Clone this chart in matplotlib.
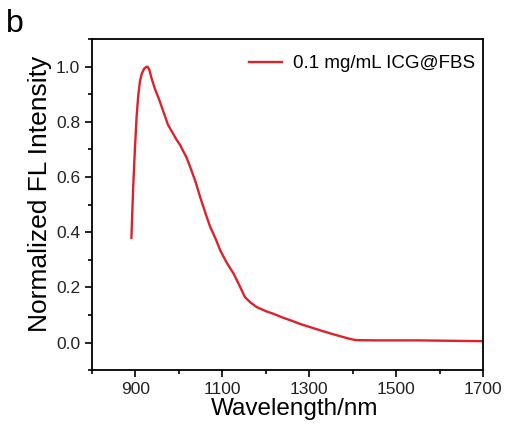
import matplotlib
matplotlib.use("Agg")
import matplotlib.pyplot as plt
from matplotlib.ticker import MultipleLocator

plt.rcParams['font.family'] = ['Liberation Sans', 'DejaVu Sans']

wavelength = [891, 895, 899, 903, 907, 911, 915, 920, 925, 928, 932, 937, 945, 955, 965,
              975, 984, 995, 1003, 1018, 1026, 1038, 1049, 1060, 1072, 1085, 1095, 1110,
              1126, 1140, 1152, 1165, 1180, 1200, 1218, 1240, 1260, 1280, 1302, 1330,
              1360, 1385, 1406, 1450, 1500, 1550, 1600, 1650, 1700]
intensity = [0.38, 0.56, 0.70, 0.82, 0.90, 0.95, 0.975, 0.992, 0.999, 1.0, 0.99, 0.96,
             0.92, 0.88, 0.835, 0.79, 0.765, 0.735, 0.716, 0.67, 0.637, 0.585, 0.528,
             0.475, 0.42, 0.375, 0.335, 0.29, 0.25, 0.205, 0.165, 0.145, 0.128, 0.114,
             0.104, 0.09, 0.079, 0.067, 0.056, 0.042, 0.028, 0.017, 0.009, 0.008, 0.008,
             0.008, 0.007, 0.006, 0.005]
series_label = "0.1 mg/mL ICG@FBS"
xticks = [900, 1100, 1300, 1500, 1700]
yticks = [0.0, 0.2, 0.4, 0.6, 0.8, 1.0]

fig = plt.figure(figsize=(5.13, 4.25), dpi=100)
ax = fig.add_axes([0.179, 0.129, 0.763, 0.779])
ax.plot(wavelength, intensity, color='#e0202a', lw=1.7, label=series_label)
ax.set_xlim(800, 1700)
ax.set_ylim(-0.1, 1.1)
ax.set_xticks(xticks)
ax.set_yticks(yticks)
ax.xaxis.set_minor_locator(MultipleLocator(100))
ax.yaxis.set_minor_locator(MultipleLocator(0.1))
ax.tick_params(which='both', direction='out', top=False, right=False, width=1.2,
               labelsize=12.5, labelcolor='#222222')
ax.tick_params(which='major', length=5)
ax.tick_params(which='minor', length=3)
for s in ax.spines.values():
    s.set_linewidth(1.3)
ax.set_xlabel("Wavelength/nm", fontsize=17.5, labelpad=0)
ax.xaxis.set_label_coords(0.517, -0.084)
ax.set_ylabel("Normalized FL Intensity", fontsize=19)
ax.yaxis.set_label_coords(-0.102, 0.532)
ax.legend(loc='upper right', frameon=False, fontsize=13.5, handlelength=1.75,
          handletextpad=0.6, borderaxespad=0.25,
          bbox_to_anchor=(1.01, 0.988))
fig.text(0.012, 0.925, "b", fontsize=23)
fig.savefig("out.png", dpi=100)
